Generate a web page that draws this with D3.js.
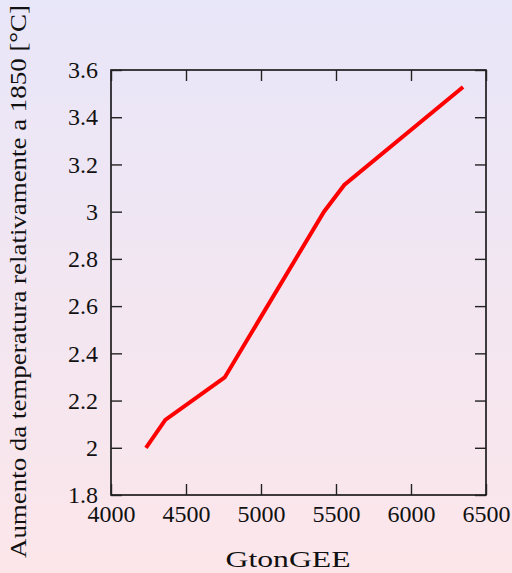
<!DOCTYPE html>
<html>
<head>
<meta charset="utf-8">
<script src="https://cdn.jsdelivr.net/npm/d3@7"></script>
<style>
  html, body { margin: 0; padding: 0; }
  body { width: 512px; height: 573px; overflow: hidden; }
  svg { display: block; }
  text { font-family: "Liberation Serif", "DejaVu Serif", serif; fill: #111; }
</style>
</head>
<body>
<svg id="chart"></svg>
<script>
// emissions (GtonGEE) vs temperature rise
const emissions = [4233, 4362, 4758, 5420, 5555, 6347];
const tempRise = [2.0, 2.118, 2.298, 3.0, 3.113, 3.528];
const xTicks = [4000, 4500, 5000, 5500, 6000, 6500];
const yTicks = [1.8, 2, 2.2, 2.4, 2.6, 2.8, 3, 3.2, 3.4, 3.6];

const width = 512, height = 573;
const margin = { top: 70, right: 26, bottom: 78, left: 111 };

const svg = d3.select('#chart')
    .attr('width', width)
    .attr('height', height);

const defs = svg.append('defs');
const grad = defs.append('linearGradient')
    .attr('id', 'bg')
    .attr('x1', 0).attr('y1', 0).attr('x2', 0).attr('y2', 1);
grad.append('stop').attr('offset', '0%').attr('stop-color', '#e8e6f9');
grad.append('stop').attr('offset', '100%').attr('stop-color', '#fce6ea');

svg.append('rect')
    .attr('width', width)
    .attr('height', height)
    .attr('fill', 'url(#bg)');

const x = d3.scaleLinear()
    .domain([4000, 6500])
    .range([margin.left, width - margin.right]);

const y = d3.scaleLinear()
    .domain([1.8, 3.6])
    .range([height - margin.bottom, margin.top]);

const tickLen = 11;

// frame
svg.append('rect')
    .attr('x', x(4000))
    .attr('y', y(3.6))
    .attr('width', x(6500) - x(4000))
    .attr('height', y(1.8) - y(3.6))
    .attr('fill', 'none')
    .attr('stroke', '#111')
    .attr('stroke-width', 1.6);

// inward ticks on all four sides
const axB = d3.axisBottom(x).tickValues(xTicks).tickSizeInner(-tickLen).tickSizeOuter(0).tickPadding(10).tickFormat(d3.format('d'));
const axT = d3.axisTop(x).tickValues(xTicks).tickSizeInner(-tickLen).tickSizeOuter(0).tickFormat('');
const axL = d3.axisLeft(y).tickValues(yTicks).tickSizeInner(-tickLen).tickSizeOuter(0).tickPadding(13).tickFormat(d3.format('~g'));
const axR = d3.axisRight(y).tickValues(yTicks).tickSizeInner(-tickLen).tickSizeOuter(0).tickFormat('');

function styleAxis(g) {
    g.select('.domain').remove();
    g.selectAll('.tick line').attr('stroke', '#222').attr('stroke-width', 1.4);
    g.selectAll('.tick text')
        .attr('font-size', 24)
        .attr('font-family', '"Liberation Serif", "DejaVu Serif", serif')
        .attr('fill', '#111');
}

svg.append('g').attr('transform', `translate(0,${y(1.8)})`).call(axB).call(styleAxis);
svg.append('g').attr('transform', `translate(0,${y(3.6)})`).call(axT).call(styleAxis);
svg.append('g').attr('transform', `translate(${x(4000)},0)`).call(axL).call(styleAxis);
svg.append('g').attr('transform', `translate(${x(6500)},0)`).call(axR).call(styleAxis);

const line = d3.line()
    .x((d, i) => x(emissions[i]))
    .y(d => y(d));

svg.append('path')
    .datum(tempRise)
    .attr('fill', 'none')
    .attr('stroke', '#ff0000')
    .attr('stroke-width', 4)
    .attr('stroke-linejoin', 'miter')
    .attr('d', line);

svg.append('text')
    .attr('x', 288)
    .attr('y', 567)
    .attr('text-anchor', 'middle')
    .attr('font-size', 23)
    .attr('textLength', 125)
    .attr('lengthAdjust', 'spacingAndGlyphs')
    .text('GtonGEE');

svg.append('text')
    .attr('transform', `translate(26,558) rotate(-90)`)
    .attr('text-anchor', 'start')
    .attr('font-size', 24)
    .attr('textLength', 553)
    .attr('lengthAdjust', 'spacingAndGlyphs')
    .text('Aumento da temperatura relativamente a 1850 [°C]');
</script>
</body>
</html>
